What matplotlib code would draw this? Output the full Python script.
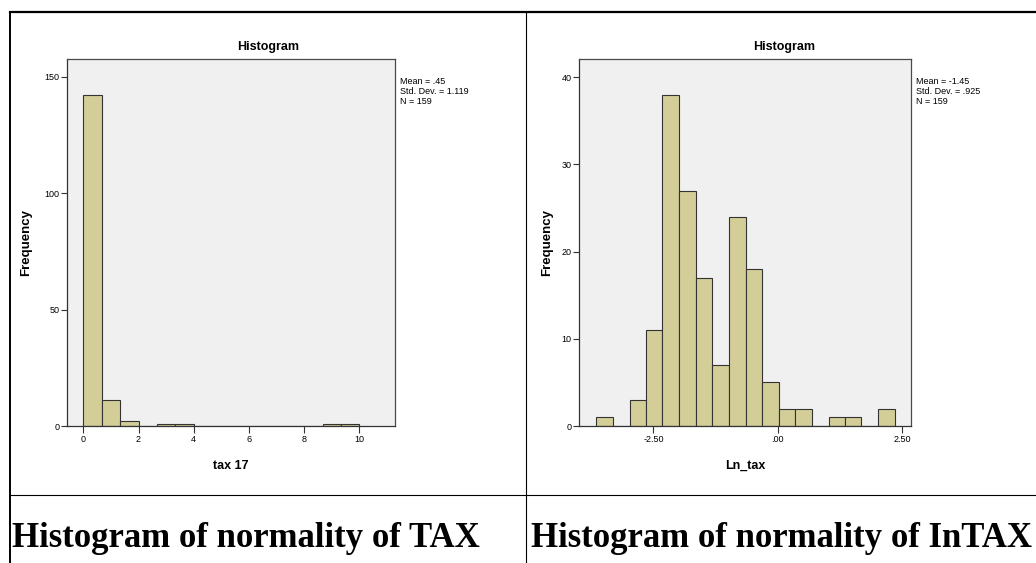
import matplotlib.pyplot as plt
from matplotlib.lines import Line2D

# left panel: tax 17, bin width 2/3
tax_edges = [0, 0.667, 1.333, 2, 2.667, 3.333, 4, 4.667, 5.333, 6, 6.667,
             7.333, 8, 8.667, 9.333, 10]
tax_counts = [142, 11, 2, 0, 1, 1, 0, 0, 0, 0, 0, 0, 0, 1, 1]
tax_ticks = [0, 2, 4, 6, 8, 10]
tax_ticklabels = ["0", "2", "4", "6", "8", "10"]
tax_yticks = [0, 50, 100, 150]

# right panel: Ln_tax
ln_edges = [-3.65, -3.32, -2.98, -2.65, -2.32, -1.98, -1.65, -1.32, -0.98,
            -0.65, -0.32, 0.02, 0.35, 0.68, 1.02, 1.35, 1.68, 2.02, 2.35]
ln_counts = [1, 0, 3, 11, 38, 27, 17, 7, 24, 18, 5, 2, 2, 0, 1, 1, 0, 2]
ln_ticks = [-2.5, 0, 2.5]
ln_ticklabels = ["-2.50", ".00", "2.50"]
ln_yticks = [0, 10, 20, 30, 40]

tax_stats = "Mean = .45\nStd. Dev. = 1.119\nN = 159"
ln_stats = "Mean = -1.45\nStd. Dev. = .925\nN = 159"
captions = ["Histogram of normality of TAX", "Histogram of normality of InTAX"]

plt.rcParams['font.family'] = ['Liberation Sans', 'DejaVu Sans']

BAR = "#d3ce98"
BG = "#f0f0f0"

fig = plt.figure(figsize=(10.36, 5.63), dpi=100)


def draw_hist(rect, edges, counts, xlim, ylim, ticks, ticklabels, yticks,
              xlabel, ylab_x):
    ax = fig.add_axes(rect)
    ax.set_facecolor(BG)
    lefts = edges[:-1]
    widths = [edges[i + 1] - edges[i] for i in range(len(counts))]
    ax.bar(lefts, counts, width=widths, align='edge', color=BAR,
           edgecolor="#333333", linewidth=0.8)
    ax.set_xlim(xlim)
    ax.set_ylim(ylim)
    ax.set_xticks(ticks)
    ax.set_xticklabels(ticklabels)
    ax.set_yticks(yticks)
    ax.tick_params(axis='both', labelsize=6.5, color="#333333", width=0.8,
                   pad=1.5)
    ax.tick_params(axis='x', length=5)
    ax.tick_params(axis='y', length=4)
    for s in ax.spines.values():
        s.set_color("#4a4a4a")
        s.set_linewidth(0.9)
    ax.spines['bottom'].set_color("#333333")
    ax.spines['left'].set_color("#333333")
    ax.set_xlabel(xlabel, fontsize=9, fontweight='bold')
    ax.xaxis.set_label_coords(0.5, -0.093)
    ax.set_ylabel("Frequency", fontsize=9.5, fontweight='bold')
    ax.yaxis.set_label_coords(ylab_x, 0.5)
    return ax


draw_hist([0.0647, 0.2433, 0.3166, 0.652], tax_edges, tax_counts,
          (-0.59, 11.29), (0, 157.7), tax_ticks, tax_ticklabels, tax_yticks,
          "tax 17", -0.105)
draw_hist([0.5592, 0.2433, 0.3199, 0.652], ln_edges, ln_counts,
          (-3.99, 2.67), (0, 42.1), ln_ticks, ln_ticklabels, ln_yticks,
          "Ln_tax", -0.08)

# panel titles and stats boxes
fig.text(0.2587, 0.9165, "Histogram", fontsize=9, fontweight='bold',
         ha='center', va='center')
fig.text(0.7567, 0.9165, "Histogram", fontsize=9, fontweight='bold',
         ha='center', va='center')
fig.text(0.386, 0.864, tax_stats, fontsize=6.5, ha='left', va='top',
         linespacing=1.15)
fig.text(0.884, 0.864, ln_stats, fontsize=6.5, ha='left', va='top',
         linespacing=1.15)

# table grid lines
fig.add_artist(Line2D([0.0097, 1.0], [0.9787, 0.9787], color='black',
                      linewidth=1.6, transform=fig.transFigure))
fig.add_artist(Line2D([0.0097, 0.0097], [0.0, 0.9787], color='black',
                      linewidth=1.4, transform=fig.transFigure))
fig.add_artist(Line2D([0.5077, 0.5077], [0.0, 0.9787], color='black',
                      linewidth=0.8, transform=fig.transFigure))
fig.add_artist(Line2D([0.0097, 1.0], [0.1208, 0.1208], color='black',
                      linewidth=0.8, transform=fig.transFigure))

# captions below the charts
fig.text(0.0115, 0.0284, captions[0], fontsize=25, fontweight='bold',
         family=['Liberation Serif', 'DejaVu Serif'], ha='left',
         va='baseline')
fig.text(0.5125, 0.0284, captions[1], fontsize=25, fontweight='bold',
         family=['Liberation Serif', 'DejaVu Serif'], ha='left',
         va='baseline')

fig.savefig("out.png", dpi=100)
